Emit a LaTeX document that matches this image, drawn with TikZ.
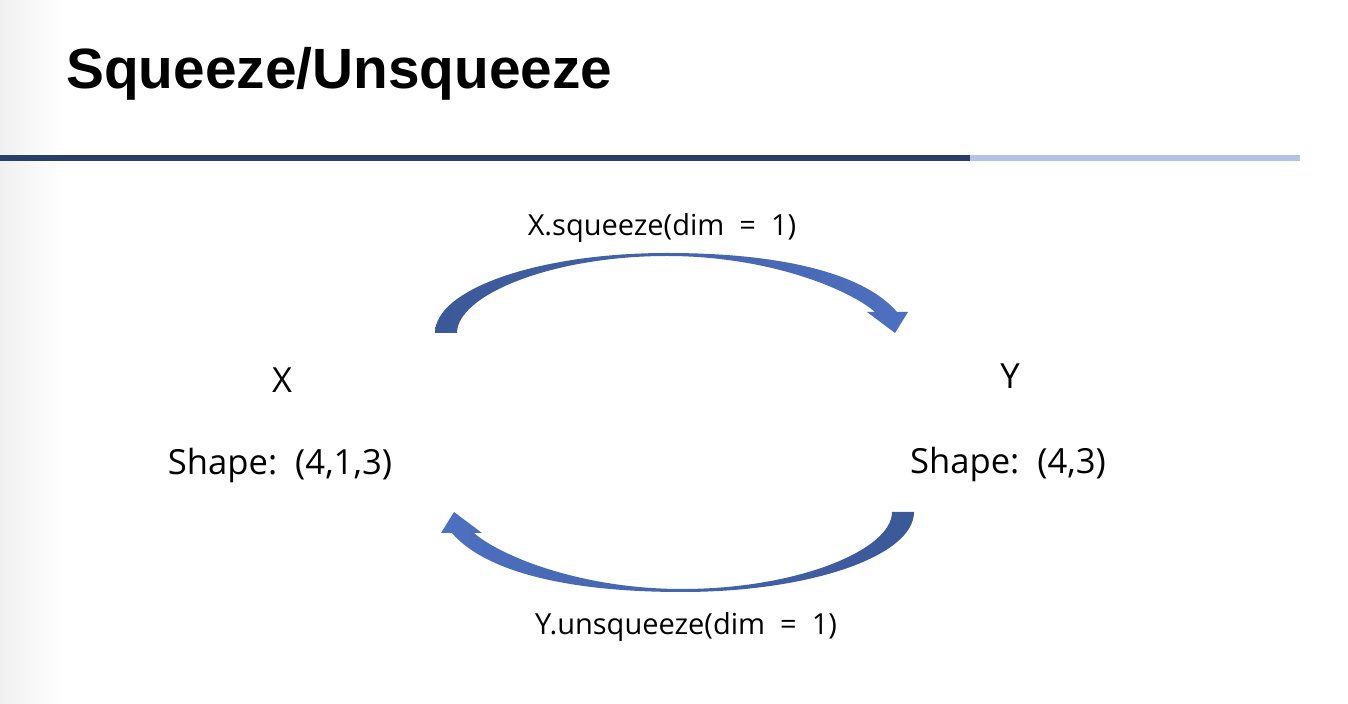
\documentclass[tikz,border=0pt]{standalone}
\usepackage{fontspec}
\setmainfont{Open Sans}
\newfontfamily\titlefont{Liberation Sans}
\definecolor{lineDark}{HTML}{2B3E6A}
\definecolor{lineLight}{HTML}{B4C3E5}
\definecolor{arrDark}{HTML}{3B5897}
\definecolor{arrLight}{HTML}{4D70C0}
\tikzset{
  lbl/.style={font=\fontsize{17.3}{21}\selectfont, inner sep=0pt},
  oplbl/.style={font=\fontsize{14.5}{18}\selectfont, inner sep=0pt},
  blockarrow/.style={left color=arrDark, right color=arrLight, draw=none},
  blockarrowrev/.style={left color=arrLight, right color=arrDark, draw=none},
}
\newcommand{\curvedarrowpath}{(435,333) .. controls (435,289) and (539,253) .. (667,253) .. controls (795,253) and (868,278) .. (897,312) -- (908,312) -- (895,333) -- (867,312) -- (875,312) .. controls (850,290) and (770,256) .. (667,256) .. controls (552,256) and (457,295) .. (457,333) -- cycle}
\begin{document}
\begin{tikzpicture}[x=0.5pt,y=-0.5pt]
\useasboundingbox (0,0) rectangle (1348,704);
\fill[white] (0,0) rectangle (1348,704);
\shade[left color=black!6, right color=white] (0,0) rectangle (62,704);
% title
\node[anchor=base west, inner sep=0pt, font=\titlefont\bfseries\fontsize{28.4}{34}\selectfont] (title) at (66,89) {Squeeze/Unsqueeze};
% rule
\fill[lineDark] (0,155) rectangle (970,161);
\fill[lineLight] (970,155) rectangle (1300,161);
% nodes
\node[lbl] (X) at (282,380) {X};
\node[lbl] (Y) at (1010,376) {Y};
\node[lbl] (xs) at (280,466) {Shape:\ \ (4,1,3)};
\node[lbl] (ys) at (1008,465) {Shape:\ \ (4,3)};
% arrows
\shade[blockarrow] \curvedarrowpath;
\begin{scope}[rotate around={180:(674.5,422.5)}]
\shade[blockarrowrev] \curvedarrowpath;
\end{scope}
\node[oplbl] (sq) at (662,228) {X.squeeze(dim\ \ =\ \ 1)};
\node[oplbl] (usq) at (686,627) {Y.unsqueeze(dim\ \ =\ \ 1)};
\end{tikzpicture}
\end{document}
